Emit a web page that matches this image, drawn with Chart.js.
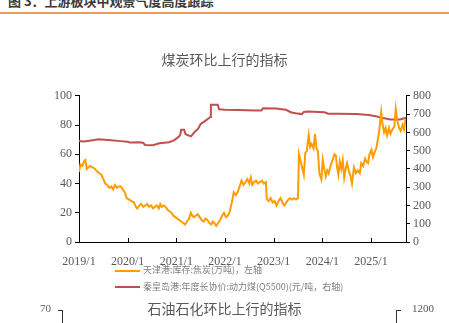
<!DOCTYPE html>
<html>
<head>
<meta charset="utf-8">
<script src="https://cdn.jsdelivr.net/npm/chart.js@4"></script>
<style>
body { margin: 0; background: #fff; }
#page { position: relative; width: 449px; height: 323px; overflow: hidden; font-family: "Noto Sans CJK SC", sans-serif; }
#head { position: absolute; left: 8px; top: -6px; font-size: 13px; line-height: 13px; font-weight: bold; color: #3a3a3a; white-space: nowrap; }
#headLine { position: absolute; left: 0; top: 12px; width: 449px; height: 2px; background: #EE9A5A; }
#c1 { position: absolute; left: 0; top: 0; }
.leg { position: absolute; left: 115px; height: 12px; font-size: 9px; line-height: 12px; color: #7f7f7f; white-space: nowrap; }
.leg i { display: inline-block; width: 25px; height: 2px; vertical-align: middle; margin-right: 3px; }
.sub { position: absolute; color: #595959; white-space: nowrap; }
.num { font-family: "Liberation Serif", "Times New Roman", serif; font-size: 11px; line-height: 12px; }
.ax { position: absolute; background: #333; }
</style>
</head>
<body>
<div id="page">
  <div id="head">图 3：上游板块中观景气度高度跟踪</div>
  <div id="headLine"></div>
  <canvas id="c1" width="449" height="270"></canvas>
  <div id="legend"></div>

  <!-- 下一张图的开头 -->
  <div class="sub" style="left:0;width:449px;top:300px;text-align:center;font-size:14px;line-height:17px;">石油石化环比上行的指标</div>
  <div class="sub num" style="left:40px;top:302px;">70</div>
  <div class="ax" style="left:58px;top:310px;width:5px;height:1px;"></div>
  <div class="ax" style="left:62px;top:310px;width:1px;height:13px;"></div>
  <div class="sub num" style="left:412px;top:302px;">1200</div>
  <div class="ax" style="left:396px;top:310px;width:5px;height:1px;"></div>
  <div class="ax" style="left:396px;top:310px;width:1px;height:13px;"></div>
</div>
<script>
// 年份刻度
const yearTicks = [2019, 2020, 2021, 2022, 2023, 2024, 2025];

// 天津港:库存:焦炭(万吨)
const cokeDates = [
  2019.00, 2019.03, 2019.07, 2019.10, 2019.13, 2019.16, 2019.19, 2019.23, 2019.28, 2019.33,
  2019.38, 2019.42, 2019.46, 2019.50, 2019.54, 2019.58, 2019.62, 2019.66, 2019.70, 2019.74,
  2019.78, 2019.82, 2019.86, 2019.90, 2019.94, 2019.98, 2020.03, 2020.08, 2020.13, 2020.17,
  2020.20, 2020.24, 2020.28, 2020.32, 2020.36, 2020.40, 2020.44, 2020.48, 2020.52, 2020.56,
  2020.60, 2020.64, 2020.67, 2020.70, 2020.74, 2020.78, 2020.82, 2020.86, 2020.90, 2020.94,
  2020.98, 2021.02, 2021.06, 2021.10, 2021.14, 2021.18, 2021.22, 2021.26, 2021.30, 2021.33,
  2021.36, 2021.40, 2021.44, 2021.48, 2021.52, 2021.56, 2021.60, 2021.64, 2021.68, 2021.72,
  2021.75, 2021.78, 2021.82, 2021.86, 2021.90, 2021.94, 2021.98, 2022.02, 2022.06, 2022.10,
  2022.14, 2022.18, 2022.22, 2022.26, 2022.30, 2022.34, 2022.38, 2022.42, 2022.46, 2022.50,
  2022.53, 2022.56, 2022.60, 2022.64, 2022.68, 2022.72, 2022.76, 2022.80, 2022.84, 2022.86,
  2022.90, 2022.94, 2022.98, 2023.02, 2023.06, 2023.10, 2023.14, 2023.18, 2023.22, 2023.26,
  2023.30, 2023.34, 2023.38, 2023.42, 2023.46, 2023.50, 2023.52, 2023.55, 2023.58, 2023.62,
  2023.65, 2023.68, 2023.72, 2023.75, 2023.78, 2023.82, 2023.85, 2023.88, 2023.91, 2023.94,
  2023.98, 2024.01, 2024.04, 2024.07, 2024.10, 2024.13, 2024.17, 2024.21, 2024.25, 2024.28,
  2024.30, 2024.33, 2024.36, 2024.39, 2024.42, 2024.45, 2024.48, 2024.51, 2024.55, 2024.58,
  2024.61, 2024.65, 2024.69, 2024.73, 2024.77, 2024.80, 2024.84, 2024.88, 2024.91, 2024.94,
  2024.97, 2025.01, 2025.04, 2025.08, 2025.11, 2025.14, 2025.17, 2025.21, 2025.24, 2025.27,
  2025.30, 2025.33, 2025.37, 2025.40, 2025.44, 2025.48, 2025.51, 2025.54, 2025.58, 2025.61,
  2025.65, 2025.68, 2025.71
];
const cokeStock = [
  48, 53, 52, 55, 56, 50, 51, 52, 51, 50,
  48, 47, 46, 43, 40, 39, 37, 38, 36, 39,
  37, 38, 38, 36, 34, 30, 29, 28, 27, 24,
  23, 25, 26, 24, 25, 26, 24, 25, 23, 24,
  25, 23, 26, 24, 25, 24, 22, 21, 20, 18,
  17, 16, 15, 14, 13, 12, 14, 16, 20, 18,
  17, 18, 19, 17, 15, 14, 16, 15, 13, 12,
  14, 13, 11, 13, 15, 18, 20, 17, 18, 21,
  27, 34, 32, 34, 38, 42, 39, 41, 43, 40,
  44, 39, 41, 42, 40, 41, 42, 40, 41, 29,
  28, 30, 27, 28, 25, 28, 30, 27, 25, 27,
  29, 30, 29, 30, 29, 30, 60, 56, 52, 46,
  61, 62, 73, 65, 67, 64, 74, 64, 62, 47,
  43, 56, 50, 45, 49, 47, 52, 56, 60, 59,
  52, 46, 55, 50, 56, 44, 50, 54, 48, 45,
  40, 51, 47, 49, 47, 54, 52, 57, 55, 54,
  60, 63, 58, 62, 64, 70, 76, 89, 80, 75,
  78, 73, 78, 74, 77, 79, 91, 83, 78, 76,
  80, 77, 84
];

// 秦皇岛港:年度长协价:动力煤(Q5500)(元/吨)
const priceDates = [
  2019.00, 2019.10, 2019.25, 2019.40, 2019.60, 2019.85, 2020.00, 2020.05, 2020.25, 2020.32,
  2020.36, 2020.52, 2020.60, 2020.65, 2020.85, 2020.95, 2021.02, 2021.06, 2021.08, 2021.10,
  2021.16, 2021.19, 2021.30, 2021.34, 2021.38, 2021.45, 2021.50, 2021.58, 2021.66, 2021.70,
  2021.71, 2021.85, 2021.88, 2022.00, 2022.30, 2022.60, 2022.75, 2022.78, 2023.05, 2023.25,
  2023.35, 2023.45, 2023.58, 2023.62, 2023.70, 2024.05, 2024.12, 2024.30, 2024.70, 2024.95,
  2025.10, 2025.25, 2025.40, 2025.60, 2025.72
];
const coalPrice = [
  552, 550, 556, 562, 558, 552, 548, 544, 546, 542,
  531, 530, 536, 540, 546, 556, 570, 578, 588, 614,
  614, 590, 578, 590, 604, 620, 646, 660, 676, 684,
  751, 751, 726, 724, 722, 720, 720, 732, 730, 724,
  710, 705, 700, 712, 714, 710, 702, 702, 700, 695,
  688, 678, 670, 670, 680
];

const tickFont = { family: "'Liberation Serif', 'Times New Roman', serif", size: 12 };

// x 轴刻度朝内
const innerTicks = {
  id: 'innerTicks',
  afterDatasetsDraw(chart) {
    const sx = chart.scales.x;
    const ctx = chart.ctx;
    const bottom = chart.chartArea.bottom;
    ctx.save();
    ctx.strokeStyle = '#000';
    ctx.lineWidth = 1;
    sx.ticks.forEach(t => {
      const px = Math.round(sx.getPixelForValue(t.value)) + 0.5;
      ctx.beginPath();
      ctx.moveTo(px, bottom);
      ctx.lineTo(px, bottom - 4);
      ctx.stroke();
    });
    ctx.restore();
  }
};

const chart = new Chart(document.getElementById('c1'), {
  type: 'line',
  data: {
    datasets: [
      {
        label: '天津港:库存:焦炭(万吨)，左轴',
        data: cokeDates.map((d, i) => ({ x: d, y: cokeStock[i] })),
        yAxisID: 'y',
        borderColor: '#FF9C00',
        borderWidth: 2,
        pointRadius: 0,
        order: 0
      },
      {
        label: '秦皇岛港:年度长协价:动力煤(Q5500)(元/吨，右轴)',
        data: priceDates.map((d, i) => ({ x: d, y: coalPrice[i] })),
        yAxisID: 'y1',
        borderColor: '#C0504D',
        borderWidth: 2,
        pointRadius: 0,
        order: 1
      }
    ]
  },
  options: {
    responsive: false,
    animation: false,
    devicePixelRatio: 1,
    layout: { padding: 0 },
    plugins: {
      legend: { display: false },
      tooltip: { enabled: false },
      title: {
        display: true,
        text: '煤炭环比上行的指标',
        color: '#595959',
        font: { family: "'Noto Sans CJK SC'", size: 14, weight: 'normal' },
        padding: { top: 51, bottom: 28 }
      }
    },
    scales: {
      x: {
        type: 'linear',
        min: 2019,
        max: 2025.72,
        afterBuildTicks: s => { s.ticks = yearTicks.map(v => ({ value: v })); },
        afterFit: s => { s.height = 28; },
        grid: { display: false },
        border: { color: '#000', width: 1 },
        ticks: {
          autoSkip: false,
          maxRotation: 0,
          padding: 5,
          color: '#595959',
          font: tickFont,
          callback: v => v + '/1'
        }
      },
      y: {
        position: 'left',
        min: 0,
        max: 100,
        afterFit: s => { s.width = 79; },
        grid: { drawOnChartArea: false, tickLength: 4, color: '#000' },
        border: { color: '#000', width: 1 },
        ticks: { stepSize: 10, padding: 3, color: '#595959', font: tickFont }
      },
      y1: {
        position: 'right',
        min: 0,
        max: 800,
        afterFit: s => { s.width = 43; },
        grid: { drawOnChartArea: false, tickLength: 4, color: '#000' },
        border: { color: '#000', width: 1 },
        ticks: { stepSize: 100, padding: 3, color: '#595959', font: tickFont }
      }
    }
  },
  plugins: [innerTicks]
});

// 图例
const legendBox = document.getElementById('legend');
chart.data.datasets.forEach((ds, i) => {
  const row = document.createElement('div');
  row.className = 'leg';
  row.style.top = (264 + i * 16.5) + 'px';
  row.innerHTML = '<i style="background:' + ds.borderColor + '"></i>' + ds.label;
  legendBox.appendChild(row);
});
</script>
</body>
</html>
